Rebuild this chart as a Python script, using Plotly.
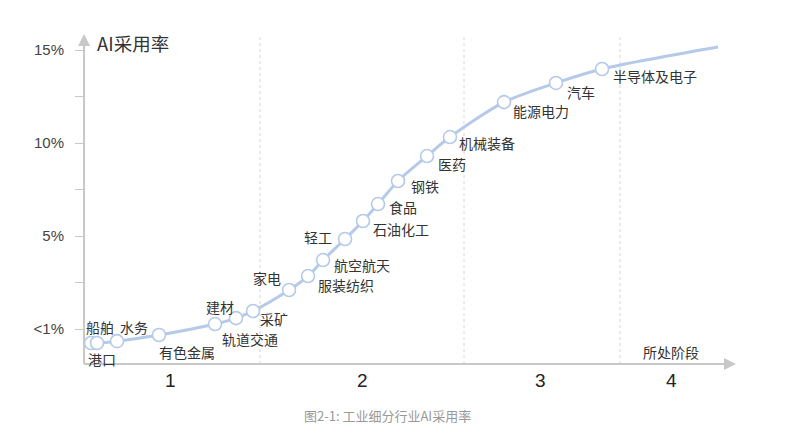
import plotly.graph_objects as go

# ---- data ----
industries = ["港口", "船舶", "水务", "有色金属", "建材", "轨道交通", "采矿", "家电",
              "服装纺织", "航空航天", "轻工", "石油化工", "食品", "钢铁", "医药",
              "机械装备", "能源电力", "汽车", "半导体及电子"]
stage_pos = [1.07, 1.99, 5.06, 11.5, 20.09, 23.31, 25.92, 31.44,
             34.36, 36.66, 40.03, 42.79, 45.09, 48.16, 52.61,
             56.13, 64.42, 72.39, 79.45]
adoption = [-0.75, -0.75, -0.65, -0.32, 0.27, 0.59, 0.97, 2.10,
            2.85, 3.71, 4.84, 5.81, 6.72, 7.96, 9.30,
            10.32, 12.20, 13.23, 13.98]
curve_end_x = 97.24
curve_end_y = 15.16

stage_bounds = [26.99, 58.28, 82.21]
stage_labels = ["1", "2", "3", "4"]
stage_label_x = [13.19, 42.64, 69.94, 90.18]

y_tickvals = [0, 2.5, 5, 7.5, 10, 12.5, 15]
y_ticktext = ["<1%", "", "5%", "", "10%", "", "15%"]

# ---- layout constants ----
X_AX, X_MAX = 0, 100          # x-axis origin and arrow tip
Y_AX, Y_MAX = -1.88, 15.86    # y value of the x-axis line and arrow tip
X_LO, Y_LO = -2.0, -2.2       # plotted range extends a little beyond the axis lines
PX_X, PX_Y = 6.52, 18.6       # px per unit
LINE_C = "#b5c9e9"
AXIS_C = "#c8c8c8"
TXT_C = "#333333"
FONT = "Noto Sans CJK SC"

margin_l = 84 - (X_AX - X_LO) * PX_X
margin_b = 433 - (364 + (Y_AX - Y_LO) * PX_Y)
plot_w = (X_MAX - X_LO) * PX_X
plot_h = (Y_MAX - Y_LO) * PX_Y

label_offsets = {
    "港口": (11, -16), "船舶": (3, 16), "水务": (17, 14), "有色金属": (28, -17),
    "建材": (5, 17), "轨道交通": (14, -21), "采矿": (21, -8), "家电": (-22, 12),
    "服装纺织": (38, -9), "航空航天": (39, -5), "轻工": (-27, 2), "石油化工": (38, -8),
    "食品": (25, -3), "钢铁": (27, -5), "医药": (25, -8), "机械装备": (37, -6),
    "能源电力": (37, -9), "汽车": (25, -9), "半导体及电子": (53, -7),
}

fig = go.Figure()

fig.add_trace(go.Scatter(
    x=stage_pos + [curve_end_x], y=adoption + [curve_end_y],
    mode="lines", line=dict(color=LINE_C, width=3, shape="spline", smoothing=0.8),
    hoverinfo="skip", cliponaxis=False, showlegend=False))
fig.add_trace(go.Scatter(
    x=stage_pos, y=adoption, mode="markers", text=industries,
    marker=dict(size=13, color="white", line=dict(color=LINE_C, width=1.6)),
    cliponaxis=False, showlegend=False))

shapes = []
for b in stage_bounds:
    shapes.append(dict(type="line", xref="x", yref="y", x0=b, x1=b, y0=Y_AX, y1=15.7,
                       line=dict(color="#d6d6d6", width=1, dash="dot"), layer="below"))
# axis lines
shapes.append(dict(type="line", xref="x", yref="y", x0=X_AX, x1=X_AX, y0=Y_AX, y1=Y_MAX - 0.3,
                   line=dict(color=AXIS_C, width=2), layer="below"))
shapes.append(dict(type="line", xref="x", yref="y", x0=X_AX, x1=X_MAX - 1, y0=Y_AX, y1=Y_AX,
                   line=dict(color=AXIS_C, width=2), layer="below"))

ann = []
for name, xv, yv in zip(industries, stage_pos, adoption):
    dx, dy = label_offsets[name]
    ann.append(dict(x=xv, y=yv, xref="x", yref="y", text=name, showarrow=False,
                    xshift=dx, yshift=dy, font=dict(family=FONT, size=14, color=TXT_C)))

# arrowheads
ann.append(dict(x=X_MAX, y=Y_AX, ax=X_MAX - 3, ay=Y_AX, xref="x", yref="y", axref="x", ayref="y",
                showarrow=True, arrowhead=2, arrowsize=1.2, arrowwidth=2, arrowcolor=AXIS_C, text=""))
ann.append(dict(x=X_AX, y=Y_MAX, ax=X_AX, ay=Y_MAX - 1, xref="x", yref="y", axref="x", ayref="y",
                showarrow=True, arrowhead=2, arrowsize=1.2, arrowwidth=2, arrowcolor=AXIS_C, text=""))

for s, xv in zip(stage_labels, stage_label_x):
    ann.append(dict(x=xv, y=Y_AX, xref="x", yref="y", text=s, showarrow=False,
                    yanchor="middle", yshift=-16,
                    font=dict(family="Liberation Sans", size=19, color="#222222")))

ann.append(dict(x=90.0, y=Y_AX, xref="x", yref="y", text="所处阶段", showarrow=False,
                yshift=12, font=dict(family=FONT, size=14, color=TXT_C)))
ann.append(dict(x=1.7, y=Y_MAX, xref="x", yref="y", text="AI采用率", showarrow=False,
                xanchor="left", yanchor="middle", yshift=-9,
                font=dict(family=FONT, size=18.5, color=TXT_C)))
ann.append(dict(x=(387 - margin_l) / plot_w, y=((433 - 415) - margin_b) / plot_h,
                xref="paper", yref="paper",
                text="图2-1: 工业细分行业AI采用率", showarrow=False, yanchor="middle",
                font=dict(family=FONT, size=13, color="#999999")))

fig.update_layout(
    width=800, height=433,
    margin=dict(l=margin_l, r=800 - 736, t=34, b=margin_b, autoexpand=False),
    paper_bgcolor="white", plot_bgcolor="white",
    shapes=shapes, annotations=ann,
    xaxis=dict(range=[X_LO, X_MAX], showgrid=False, zeroline=False, showline=False,
               showticklabels=False, ticks=""),
    yaxis=dict(range=[Y_LO, Y_MAX], showgrid=False, zeroline=False, showline=False,
               anchor="free", position=(X_AX - X_LO) / (X_MAX - X_LO),
               tickvals=y_tickvals, ticktext=y_ticktext, ticks="outside", ticklen=9,
               tickcolor=AXIS_C, tickwidth=1, ticklabelstandoff=8,
               tickfont=dict(family="Liberation Sans", size=15, color="#444444")),
)

fig.write_html("out.html")
